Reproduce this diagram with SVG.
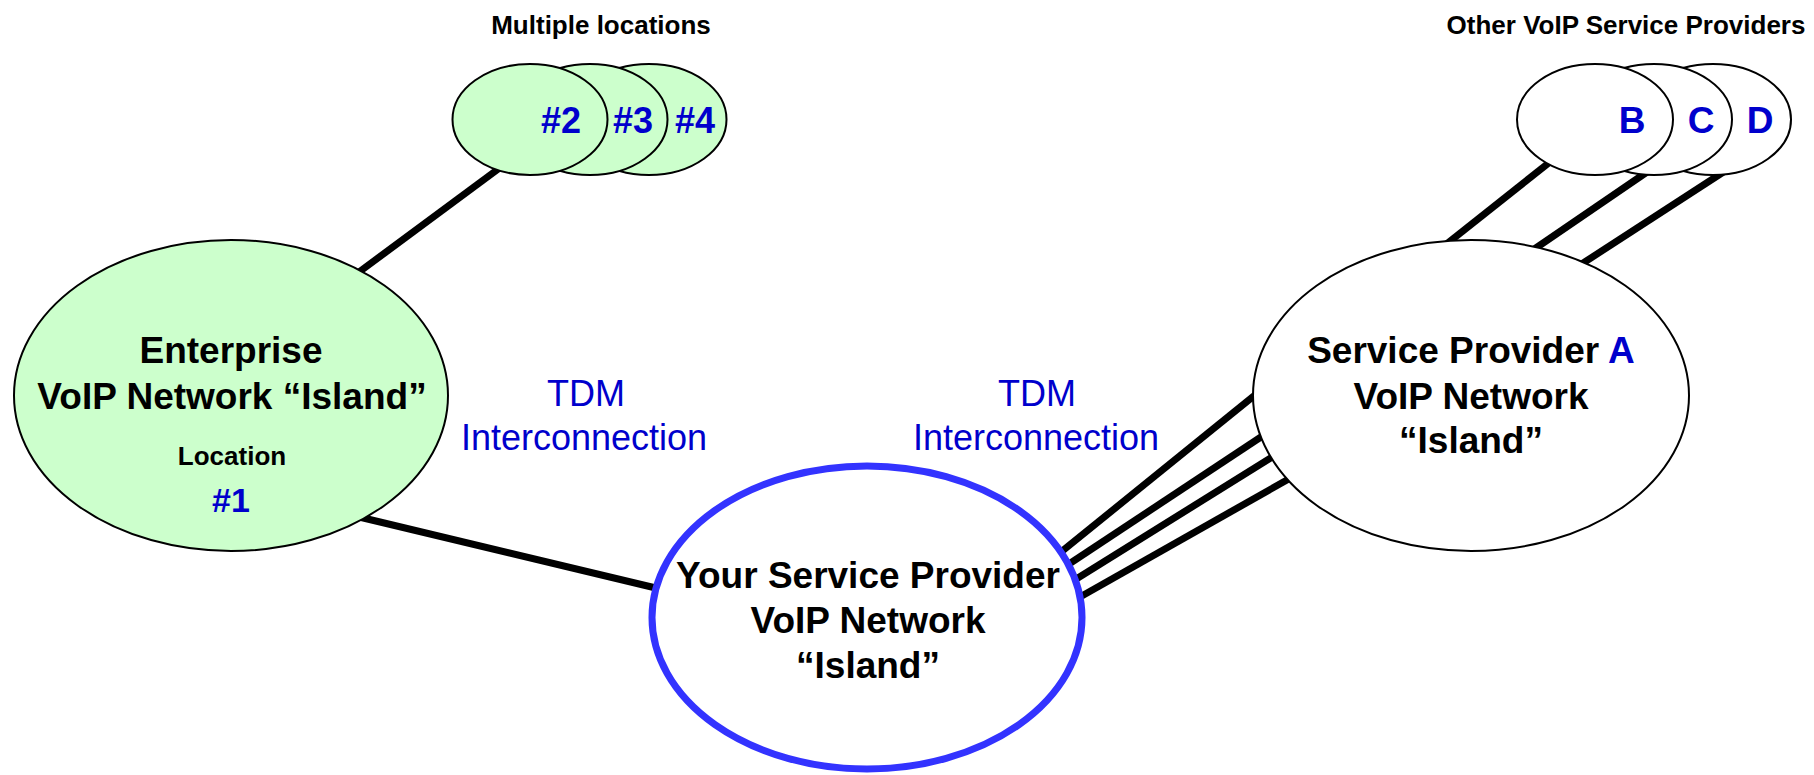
<svg xmlns="http://www.w3.org/2000/svg" width="1814" height="775" viewBox="0 0 1814 775">
<style>
.ln{stroke:#000;stroke-width:7;fill:none}
.grn{fill:#CCFFCC;stroke:#000;stroke-width:2}
.wht{fill:#fff;stroke:#000;stroke-width:2}
.t{font-family:"Liberation Sans",Arial,sans-serif;font-weight:bold;fill:#000;text-anchor:middle}
.big{font-size:37px}
.sm{font-size:26px}
.bl{fill:#0000CC}
.tdm{font-family:"Liberation Sans",Arial,sans-serif;font-size:36px;fill:#0000CC;text-anchor:middle}
</style>
<rect width="1814" height="775" fill="#fff"/>
<g id="connectors">
<line class="ln" x1="505" y1="164" x2="355" y2="275"/>
<line class="ln" x1="355" y1="516" x2="660" y2="589"/>
<line class="ln" x1="1555" y1="158" x2="1444" y2="246"/>
<line class="ln" x1="1650" y1="170" x2="1530" y2="252"/>
<line class="ln" x1="1725" y1="171" x2="1577" y2="267"/>
<line class="ln" x1="1260" y1="391" x2="1061" y2="552"/>
<line class="ln" x1="1267" y1="433" x2="1066" y2="566"/>
<line class="ln" x1="1277" y1="454" x2="1073" y2="581"/>
<line class="ln" x1="1294" y1="476" x2="1080" y2="597"/>
</g>
<g id="multiple-locations">
<text class="t sm" x="601" y="34">Multiple locations</text>
<ellipse class="grn" cx="649" cy="119.5" rx="77.5" ry="55.5"/>
<ellipse class="grn" cx="590" cy="119.5" rx="77.5" ry="55.5"/>
<ellipse class="grn" cx="530" cy="119.5" rx="77.5" ry="55.5"/>
<text class="t bl" style="font-size:36px" x="561" y="133">#2</text>
<text class="t bl" style="font-size:36px" x="633" y="133">#3</text>
<text class="t bl" style="font-size:36px" x="695" y="133">#4</text>
</g>
<g id="other-providers">
<text class="t sm" x="1626" y="34">Other VoIP Service Providers</text>
<ellipse class="wht" cx="1713" cy="119.5" rx="78" ry="55.5"/>
<ellipse class="wht" cx="1654" cy="119.5" rx="78" ry="55.5"/>
<ellipse class="wht" cx="1595" cy="119.5" rx="78" ry="55.5"/>
<text class="t big bl" x="1632" y="133">B</text>
<text class="t big bl" x="1701" y="133">C</text>
<text class="t big bl" x="1760" y="133">D</text>
</g>
<g id="enterprise">
<ellipse class="grn" cx="231" cy="395.5" rx="217" ry="155.5"/>
<text class="t big" x="231" y="363">Enterprise</text>
<text class="t big" x="232" y="409">VoIP Network “Island”</text>
<text class="t sm" x="232" y="465">Location</text>
<text class="t bl" style="font-size:34px" x="231" y="512">#1</text>
</g>
<g id="service-provider-a">
<ellipse class="wht" cx="1471" cy="395.5" rx="218" ry="155.5"/>
<text class="t big" x="1471" y="363">Service Provider <tspan class="bl">A</tspan></text>
<text class="t big" x="1471" y="409">VoIP Network</text>
<text class="t big" x="1471" y="453">“Island”</text>
</g>
<g id="your-service-provider">
<ellipse cx="867" cy="617.5" rx="215" ry="151.5" fill="#fff" stroke="#3333FF" stroke-width="7"/>
<text class="t big" x="868" y="588">Your Service Provider</text>
<text class="t big" x="868" y="633">VoIP Network</text>
<text class="t big" x="868" y="678">“Island”</text>
</g>
<g id="tdm-left">
<text class="tdm" x="586" y="406">TDM</text>
<text class="tdm" x="584" y="450">Interconnection</text>
</g>
<g id="tdm-right">
<text class="tdm" x="1037" y="406">TDM</text>
<text class="tdm" x="1036" y="450">Interconnection</text>
</g>
</svg>
